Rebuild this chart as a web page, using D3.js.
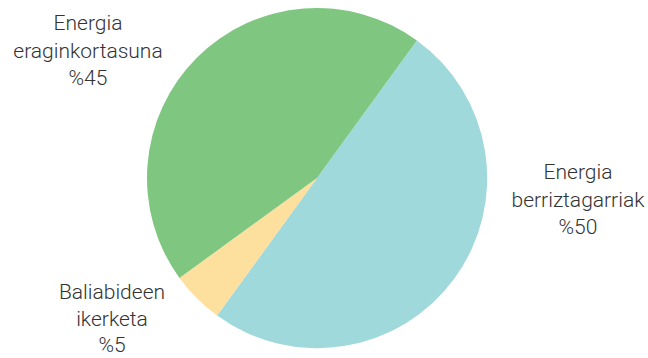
<!DOCTYPE html>
<html><head><meta charset="utf-8">
<script src="https://cdn.jsdelivr.net/npm/d3@7"></script>
<style>body{margin:0;background:#fff}</style>
</head><body>
<svg id="c" width="648" height="358"></svg>
<script>
const categories = ["Energia berriztagarriak", "Baliabideen ikerketa", "Energia eraginkortasuna"];
const values = [50, 5, 45];
const labelLines = [["Energia","berriztagarriak","%50"],["Baliabideen","ikerketa","%5"],["Energia","eraginkortasuna","%45"]];
const colors = ["#a0d9dc", "#fde09e", "#7fc680"];

const svg = d3.select("#c");
const cx = 317, cy = 178, r = 170;
const startA = 36 * Math.PI / 180;
const pie = d3.pie().sort(null).value(d => d).startAngle(startA).endAngle(startA + 2 * Math.PI);
const arcs = pie(values);
const arc = d3.arc().innerRadius(0).outerRadius(r);
const g = svg.append("g").attr("transform", `translate(${cx},${cy})`);
g.selectAll("path").data(arcs).join("path").attr("d", arc).attr("fill", (d, i) => colors[i]);

const labelPos = [[578, 179, 27.5], [112, 299, 26.5], [88, 30, 27.5]];
labelLines.forEach((lines, i) => {
  const t = svg.append("text").attr("text-anchor", "middle")
    .attr("font-family", "Roboto, 'Liberation Sans', sans-serif").attr("font-weight", 300)
    .attr("font-size", 21).attr("fill", "#333");
  lines.forEach((l, j) => t.append("tspan").attr("x", labelPos[i][0]).attr("y", labelPos[i][1] + j * labelPos[i][2]).text(l));
});
</script>
</body></html>
